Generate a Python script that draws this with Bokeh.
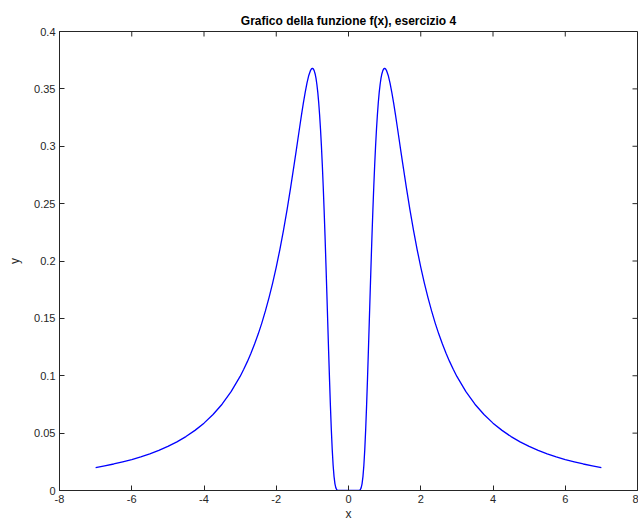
import math
from bokeh.plotting import figure
from bokeh.models import FixedTicker, Range1d
from bokeh.embed import file_html
from bokeh.resources import INLINE

# Right half of the curve (the curve is symmetric about x = 0)
x_half = [0.1, 0.2, 0.25, 0.3, 0.325, 0.35, 0.375, 0.4, 0.425, 0.45, 0.475, 0.5, 0.525,
          0.55, 0.575, 0.6, 0.625, 0.65, 0.675, 0.7, 0.725, 0.75, 0.775, 0.8, 0.825, 0.85,
          0.875, 0.9, 0.925, 0.95, 0.975, 1.0, 1.025, 1.05, 1.1, 1.15, 1.2, 1.25, 1.3, 1.35,
          1.4, 1.45, 1.5, 1.6, 1.7, 1.8, 1.9, 2.0, 2.1, 2.2, 2.3, 2.4, 2.5, 2.6, 2.7, 2.8,
          2.9, 3.0, 3.25, 3.5, 3.75, 4.0, 4.25, 4.5, 4.75, 5.0, 5.25, 5.5, 5.75, 6.0, 6.25,
          6.5, 6.75, 7.0]
y_half = [0.0, 0.0, 0.0, 0.0002, 0.0007, 0.0023, 0.0058, 0.0121, 0.0218, 0.0354, 0.0527,
          0.0733, 0.0964, 0.1212, 0.1469, 0.1727, 0.1979, 0.2220, 0.2445, 0.2651, 0.2838,
          0.3004, 0.3150, 0.3275, 0.3381, 0.3469, 0.3538, 0.3593, 0.3632, 0.3659, 0.3674,
          0.3679, 0.3674, 0.3662, 0.3617, 0.3550, 0.3468, 0.3375, 0.3275, 0.3170, 0.3063,
          0.2956, 0.2850, 0.2643, 0.2448, 0.2267, 0.2100, 0.1947, 0.1808, 0.1681, 0.1565,
          0.1459, 0.1363, 0.1276, 0.1196, 0.1123, 0.1056, 0.0994, 0.0861, 0.0752, 0.0662,
          0.0587, 0.0524, 0.0470, 0.0424, 0.0384, 0.0350, 0.0320, 0.0293, 0.0270, 0.0250,
          0.0231, 0.0215, 0.0200]
y_at_zero = 0.0

x_vals = [-v for v in reversed(x_half)] + [0.0] + x_half
y_vals = list(reversed(y_half)) + [y_at_zero] + y_half

x_ticks = [-8, -6, -4, -2, 0, 2, 4, 6, 8]
x_tick_labels = {-8: "-8", -6: "-6", -4: "-4", -2: "-2", 0: "0", 2: "2", 4: "4", 6: "6", 8: "8"}
y_ticks = [0, 0.05, 0.1, 0.15, 0.2, 0.25, 0.3, 0.35, 0.4]
y_tick_labels = {0: "0", 0.05: "0.05", 0.1: "0.1", 0.15: "0.15", 0.2: "0.2",
                 0.25: "0.25", 0.3: "0.3", 0.35: "0.35", 0.4: "0.4"}
x_min, x_max = -8, 8
y_min, y_max = 0, 0.4

FONT = "Liberation Sans"
AXC = "#262626"

p = figure(width=638, height=523, output_backend="svg", toolbar_location=None,
           x_range=Range1d(x_min, x_max), y_range=Range1d(y_min, y_max),
           title="Grafico della funzione f(x), esercizio 4",
           min_border_left=59, min_border_right=1, min_border_top=31, min_border_bottom=33)

p.title.text_font = FONT
p.title.text_font_size = "12px"
p.title.text_font_style = "bold"
p.title.align = "center"
p.title.text_color = "#000000"
p.title.offset = 0
p.title.standoff = 8

p.grid.visible = False
p.outline_line_color = AXC
p.outline_line_width = 1

p.line(x_vals, y_vals, line_color="#0000ff", line_width=1.3, line_join="round")

def style(ax, ticks):
    ax.ticker = FixedTicker(ticks=ticks)
    ax.major_tick_in = 5
    ax.major_tick_out = 0
    ax.minor_tick_line_color = None
    ax.axis_line_color = AXC
    ax.major_tick_line_color = AXC
    ax.major_label_text_font = FONT
    ax.major_label_text_font_size = "11px"
    ax.major_label_text_color = AXC
    ax.axis_label_text_font = FONT
    ax.axis_label_text_font_size = "12px"
    ax.axis_label_text_font_style = "normal"
    ax.axis_label_text_color = AXC

style(p.xaxis[0], x_ticks)
style(p.yaxis[0], y_ticks)
p.xaxis[0].axis_label = "x"
p.yaxis[0].axis_label = "y"
p.xaxis[0].major_label_standoff = 4
p.xaxis[0].axis_label_standoff = 1
p.xaxis[0].major_label_overrides = x_tick_labels
p.yaxis[0].major_label_standoff = 4
p.yaxis[0].axis_label_standoff = 9
p.yaxis[0].major_label_overrides = y_tick_labels

# inward ticks on the top and right edges of the box
p.ray(x=x_ticks, y=[y_max] * len(x_ticks), length=5, length_units="screen",
      angle=-math.pi / 2, line_color=AXC, line_width=1)
p.ray(x=[x_max] * len(y_ticks), y=y_ticks, length=5, length_units="screen",
      angle=math.pi, line_color=AXC, line_width=1)

open("out.html", "w").write(file_html(p, INLINE))
